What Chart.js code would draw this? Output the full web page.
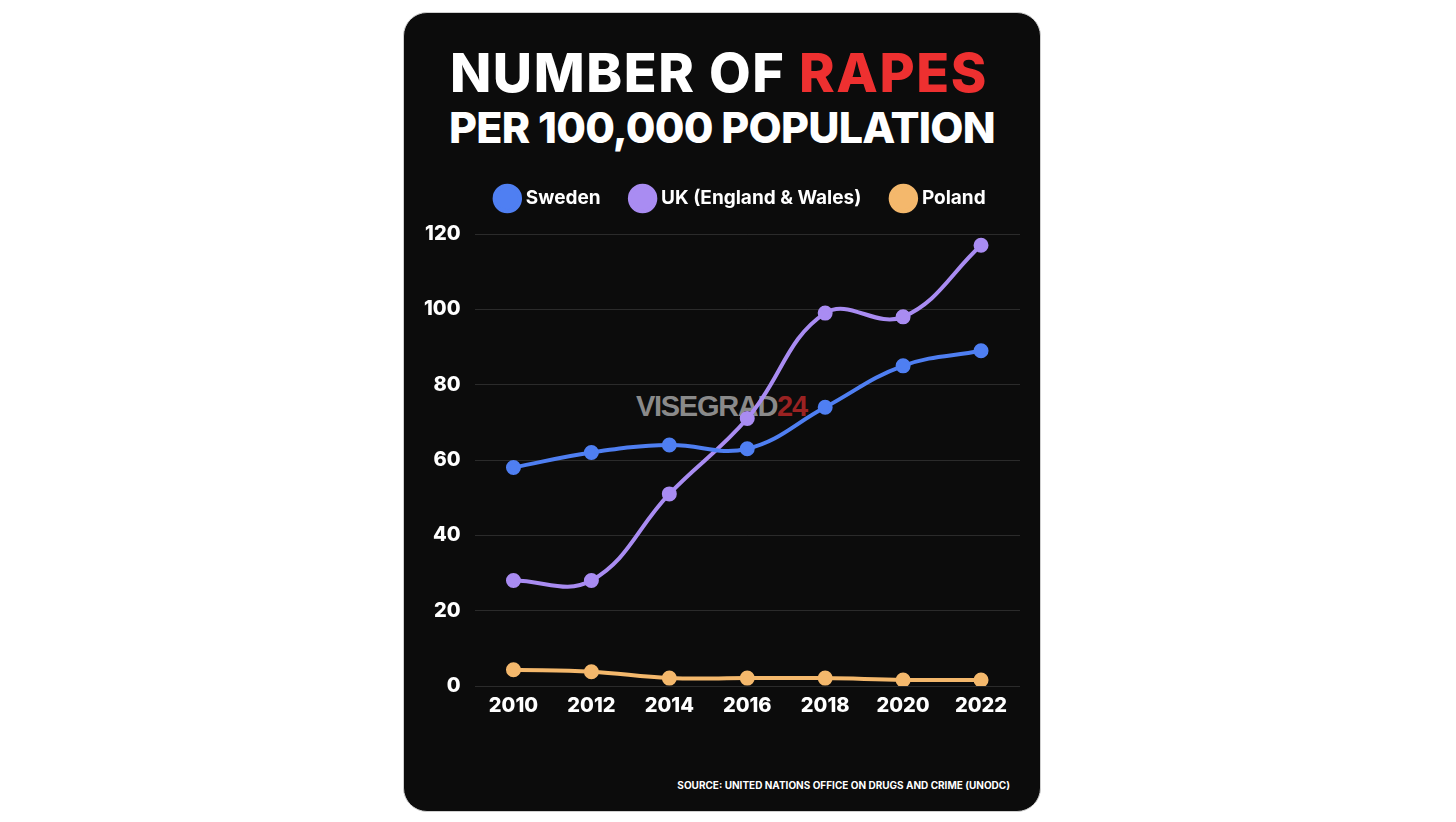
<!DOCTYPE html>
<html>
<head>
<meta charset="utf-8">
<script src="https://cdn.jsdelivr.net/npm/chart.js@4.4.1/dist/chart.umd.min.js"></script>
<style>
  html, body { margin: 0; padding: 0; background: #fff; width: 1456px; height: 822px; overflow: hidden; }
  .card {
    position: absolute; left: 403px; top: 12px; width: 636px; height: 798px;
    background: #0c0c0c; border-radius: 24px; border: 1px solid #cfcfcf; overflow: hidden;
  }
  .title {
    position: absolute; left: 0; width: 100%; text-align: center; color: #fff;
    font-family: "Inter", "Lato", sans-serif; font-weight: 800; line-height: 1;
  }
  .t1 { top: 33px; left: -3px; font-size: 54px; letter-spacing: 1.6px; }
  .t1 span { color: #ee3030; }
  .t2 { top: 93px; font-size: 43px; letter-spacing: -0.8px; }
  .mark {
    position: absolute; left: 232px; top: 377px; font-family: "Liberation Sans", sans-serif;
    font-weight: 700; font-size: 29px; letter-spacing: -1.3px; color: #8a8a8a;
  }
  .mark span { color: #9a2222; }
  .source {
    position: absolute; right: 30px; top: 766px; color: #fff;
    font-family: "Inter", sans-serif; font-weight: 700; font-size: 10px;
  }
  .chartbox { position: absolute; left: 0; top: 143px; width: 636px; height: 562px; }
</style>
</head>
<body>
<div class="card">
  <div class="title t1">NUMBER OF <span>RAPES</span></div>
  <div class="title t2">PER 100,000 POPULATION</div>
  <div class="mark">VISEGRAD<span>24</span></div>
  <div class="chartbox"><canvas id="chart"></canvas></div>
  <div class="source">SOURCE: UNITED NATIONS OFFICE ON DRUGS AND CRIME (UNODC)</div>
</div>
<script>
// data
const years = ['2010', '2012', '2014', '2016', '2018', '2020', '2022'];
const sweden = [58, 62, 64, 63, 74, 85, 89];
const ukEnglandWales = [28, 28, 51, 71, 99, 98, 117];
const poland = [4.3, 3.8, 2.1, 2.1, 2.1, 1.6, 1.6];
const yTicks = [0, 20, 40, 60, 80, 100, 120];

const seriesNames = ['Sweden', 'UK (England & Wales)', 'Poland'];
const seriesColors = ['#4f7ff2', '#a98cf2', '#f4b86c'];

function makeSet(i, data) {
    return {
        label: seriesNames[i],
        data: data,
        borderColor: seriesColors[i],
        backgroundColor: seriesColors[i],
        pointBackgroundColor: seriesColors[i],
        borderWidth: 4,
        pointRadius: 5.5,
        pointHoverRadius: 5.5,
        tension: 0.4
    };
}

// extra room under the legend, and nudge it right over the plot
const legendTweak = {
    id: 'legendTweak',
    beforeInit(chart) {
        const fit = chart.legend.fit;
        chart.legend.fit = function () { fit.bind(chart.legend)(); this.height += 16; };
    },
    afterLayout(chart) {
        chart.legend.left += 27;
        chart.legend.right += 27;
    }
};

Chart.defaults.font.family = 'Inter, Lato, sans-serif';
Chart.defaults.font.weight = '800';

new Chart(document.getElementById('chart').getContext('2d'), {
    type: 'line',
    data: {
        labels: years,
        datasets: [makeSet(0, sweden), makeSet(1, ukEnglandWales), makeSet(2, poland)]
    },
    plugins: [legendTweak],
    options: {
        responsive: true,
        maintainAspectRatio: false,
        animation: false,
        layout: { padding: { left: 6, right: 20, top: 0, bottom: 0 } },
        plugins: {
            legend: {
                display: true,
                position: 'top',
                labels: {
                    color: '#fff',
                    usePointStyle: true,
                    pointStyle: 'circle',
                    boxWidth: 18, boxHeight: 18,
                    padding: 33,
                    font: { size: 19, weight: '700' }
                }
            },
            tooltip: { enabled: false }
        },
        scales: {
            x: {
                offset: true,
                grid: { display: false },
                border: { display: false },
                ticks: { color: '#fff', font: { size: 20, weight: '800' }, padding: 0 }
            },
            y: {
                min: 0, max: 120,
                afterBuildTicks: axis => { axis.ticks = yTicks.map(v => ({ value: v })); },
                grid: { color: 'rgba(255,255,255,0.13)', lineWidth: 1, drawTicks: false },
                border: { display: false },
                ticks: { color: '#fff', font: { size: 20, weight: '800' }, padding: 14 }
            }
        }
    }
});
</script>
</body>
</html>
